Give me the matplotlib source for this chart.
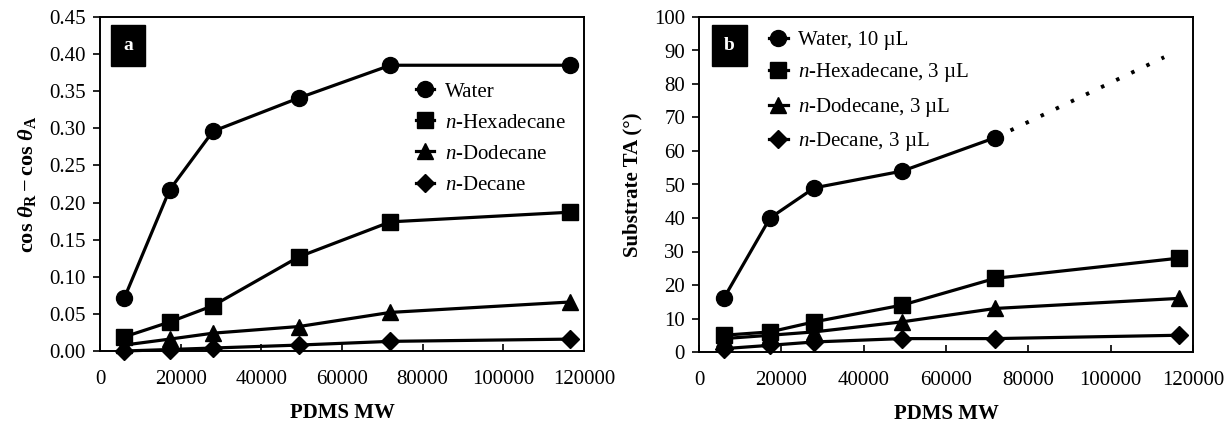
import matplotlib
matplotlib.use("Agg")
import matplotlib.pyplot as plt
from matplotlib.ticker import FormatStrFormatter, MultipleLocator

# PDMS molecular weights
pdms_mw = [6000, 17250, 28000, 49350, 72000, 116500]

# panel a: contact angle hysteresis, cos(theta_R) - cos(theta_A)
hyst_water = [0.071, 0.217, 0.296, 0.341, 0.385, 0.385]
hyst_hexadecane = [0.019, 0.039, 0.061, 0.127, 0.174, 0.187]
hyst_dodecane = [0.008, 0.016, 0.024, 0.033, 0.052, 0.066]
hyst_decane = [0.000, 0.002, 0.004, 0.008, 0.013, 0.016]

# panel b: substrate tilt angle (deg)
ta_water = [16, 40, 49, 54, 64]
ta_water_extrap_x = [72000, 113000]
ta_water_extrap_y = [64, 88]
ta_hexadecane = [5, 6, 9, 14, 22, 28]
ta_dodecane = [4, 5, 6, 9, 13, 16]
ta_decane = [1, 2, 3, 4, 4, 5]

labels_a = ["Water", "$n$-Hexadecane", "$n$-Dodecane", "$n$-Decane"]
labels_b = ["Water, 10 \u00b5L", "$n$-Hexadecane, 3 \u00b5L",
            "$n$-Dodecane, 3 \u00b5L", "$n$-Decane, 3 \u00b5L"]

plt.rcParams['font.family'] = ['Liberation Serif', 'DejaVu Serif']
plt.rcParams['mathtext.fontset'] = 'custom'
plt.rcParams['mathtext.rm'] = 'Liberation Serif'
plt.rcParams['mathtext.it'] = 'Liberation Serif:italic'
plt.rcParams['mathtext.bf'] = 'Liberation Serif:bold'
plt.rcParams['mathtext.bfit'] = 'Liberation Serif:bold:italic'

markers = ['o', 's', '^', 'D']
msizes = [11.5, 11, 11, 9]
fs = 15

fig = plt.figure(figsize=(12.3, 4.23), dpi=100)
ax_a = fig.add_axes([100 / 1230, 1 - 351 / 423, 484 / 1230, 334 / 423])
ax_b = fig.add_axes([699 / 1230, 1 - 352 / 423, 494 / 1230, 335 / 423])


def style_axis(ax):
    for s in ax.spines.values():
        s.set_linewidth(1.4)
    ax.set_xlim(0, 120000)
    ax.xaxis.set_major_locator(MultipleLocator(20000))
    ax.tick_params(axis='x', direction='in', length=5, width=1.2, labelsize=fs, pad=14)
    ax.tick_params(axis='y', direction='out', length=5, width=1.2, labelsize=fs, pad=5)
    ax.set_xlabel("PDMS MW", fontsize=fs, fontweight='bold', labelpad=10)


def tag(ax, letter, xf):
    ax.text(xf, 0.916, letter, transform=ax.transAxes, color='white',
            fontsize=14, fontweight='bold', ha='center', va='center',
            bbox=dict(boxstyle='square,pad=0.62', facecolor='black', edgecolor='black'))


def legend(ax, anchor):
    ax.legend(loc='upper left', bbox_to_anchor=anchor, frameon=False,
              fontsize=fs, handlelength=0.9, handletextpad=0.5, labelspacing=0.55,
              borderaxespad=0)


# panel a
series_a = [hyst_water, hyst_hexadecane, hyst_dodecane, hyst_decane]
for ys, m, ms, lab in zip(series_a, markers, msizes, labels_a):
    ax_a.plot(pdms_mw, ys, color='black', lw=2.3, marker=m, markersize=ms,
              label=lab, clip_on=False, zorder=3)
style_axis(ax_a)
ax_a.set_ylim(0, 0.45)
ax_a.yaxis.set_major_locator(MultipleLocator(0.05))
ax_a.yaxis.set_major_formatter(FormatStrFormatter('%.2f'))
ax_a.set_ylabel(r'$\mathbf{cos}\ \mathbfit{\theta}_{\mathbf{R}} - \mathbf{cos}\ \mathbfit{\theta}_{\mathbf{A}}$',
                fontsize=fs + 1, labelpad=8)
legend(ax_a, (0.635, 0.83))
tag(ax_a, 'a', 0.058)

# panel b
series_b = [ta_water, ta_hexadecane, ta_dodecane, ta_decane]
for ys, m, ms, lab in zip(series_b, markers, msizes, labels_b):
    ax_b.plot(pdms_mw[:len(ys)], ys, color='black', lw=2.3, marker=m, markersize=ms,
              label=lab, clip_on=False, zorder=3)
ax_b.plot(ta_water_extrap_x, ta_water_extrap_y, color='black', lw=2.8,
          linestyle=(0, (0.9, 3.4)), zorder=2)
style_axis(ax_b)
ax_b.set_ylim(0, 100)
ax_b.yaxis.set_major_locator(MultipleLocator(10))
ax_b.set_ylabel("Substrate TA (\u00b0)", fontsize=fs, fontweight='bold', labelpad=8)
legend(ax_b, (0.125, 0.985))
tag(ax_b, 'b', 0.061)

fig.savefig("out.png", dpi=100)
